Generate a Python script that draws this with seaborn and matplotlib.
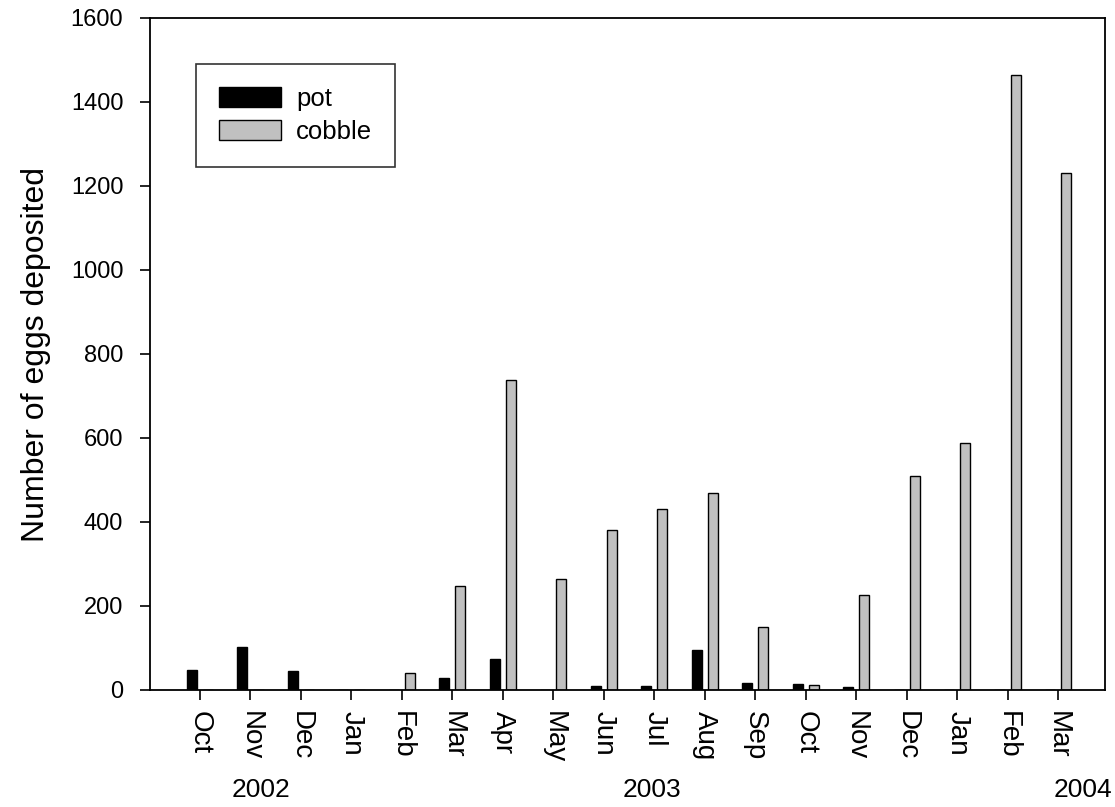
import matplotlib
matplotlib.use("Agg")
import matplotlib.pyplot as plt
import matplotlib.transforms as mtransforms
import seaborn as sns
import pandas as pd

periods = ["2002-10", "2002-11", "2002-12", "2003-01", "2003-02", "2003-03",
           "2003-04", "2003-05", "2003-06", "2003-07", "2003-08", "2003-09",
           "2003-10", "2003-11", "2003-12", "2004-01", "2004-02", "2004-03"]
month_labels = ["Oct", "Nov", "Dec", "Jan", "Feb", "Mar", "Apr", "May", "Jun",
                "Jul", "Aug", "Sep", "Oct", "Nov", "Dec", "Jan", "Feb", "Mar"]
pot = [48, 103, 45, 0, 0, 28, 73, 0, 10, 9, 95, 16, 14, 7, 0, 0, 0, 0]
cobble = [0, 0, 0, 0, 40, 248, 737, 265, 381, 431, 470, 151, 13, 226, 510, 587, 1465, 1232]
series_names = ["pot", "cobble"]
years = ["2002", "2003", "2004"]
year_pos = [1.2, 8.95, 17.5]

df = pd.DataFrame({
    "period": periods * 2,
    "eggs": pot + cobble,
    "substrate": ["pot"] * len(periods) + ["cobble"] * len(periods),
})

sns.set_style("white")
plt.rcParams["font.family"] = ["Liberation Sans", "DejaVu Sans"]
plt.rcParams["text.color"] = "black"
plt.rcParams["axes.labelcolor"] = "black"
plt.rcParams["xtick.color"] = "black"
plt.rcParams["ytick.color"] = "black"

fig = plt.figure(figsize=(11.15, 8.07), dpi=100)
ax = fig.add_axes([150 / 1115, 1 - 690 / 807, 955 / 1115, 672 / 807])

sns.barplot(data=df, x="period", y="eggs", hue="substrate", order=periods,
            hue_order=series_names, palette={"pot": "#000000", "cobble": "#C0C0C0"},
            width=0.64, gap=0.375, edgecolor="black", linewidth=1.0,
            errorbar=None, ax=ax, saturation=1)

ax.set_xlim(-0.99, 17.93)
ax.set_ylim(0, 1600)
ax.set_yticks(range(0, 1601, 200))
ax.set_xticks(range(len(periods)))
ax.set_xticklabels(month_labels, rotation=-90, ha="center", va="top", fontsize=20)
ax.tick_params(axis="y", labelsize=17, direction="out", length=7.2, width=1.2, pad=12,
               left=True, colors="black")
ax.tick_params(axis="x", direction="out", length=7.2, width=1.2, pad=8, bottom=True,
               colors="black")
ax.set_xlabel("")
ax.set_ylabel("Number of eggs deposited", fontsize=23, labelpad=14, color="black")

for s in ax.spines.values():
    s.set_visible(True)
    s.set_color("black")
    s.set_linewidth(1.3)

trans = mtransforms.blended_transform_factory(ax.transData, ax.transAxes)
for yr, xp in zip(years, year_pos):
    ax.text(xp, -0.149, yr, transform=trans, ha="center", va="center",
            fontsize=19, color="black")

handles, labels = ax.get_legend_handles_labels()
leg = ax.legend(handles, labels, loc="upper left", bbox_to_anchor=(0.048, 0.9315),
                borderaxespad=0, fontsize=18.5, frameon=True, fancybox=False,
                edgecolor="black", handlelength=2.4, handleheight=0.8,
                handletextpad=0.6, labelspacing=0.35, borderpad=0.9)
leg.get_frame().set_linewidth(1.2)
for t in leg.get_texts():
    t.set_color("black")

fig.savefig("out.png", dpi=100)
